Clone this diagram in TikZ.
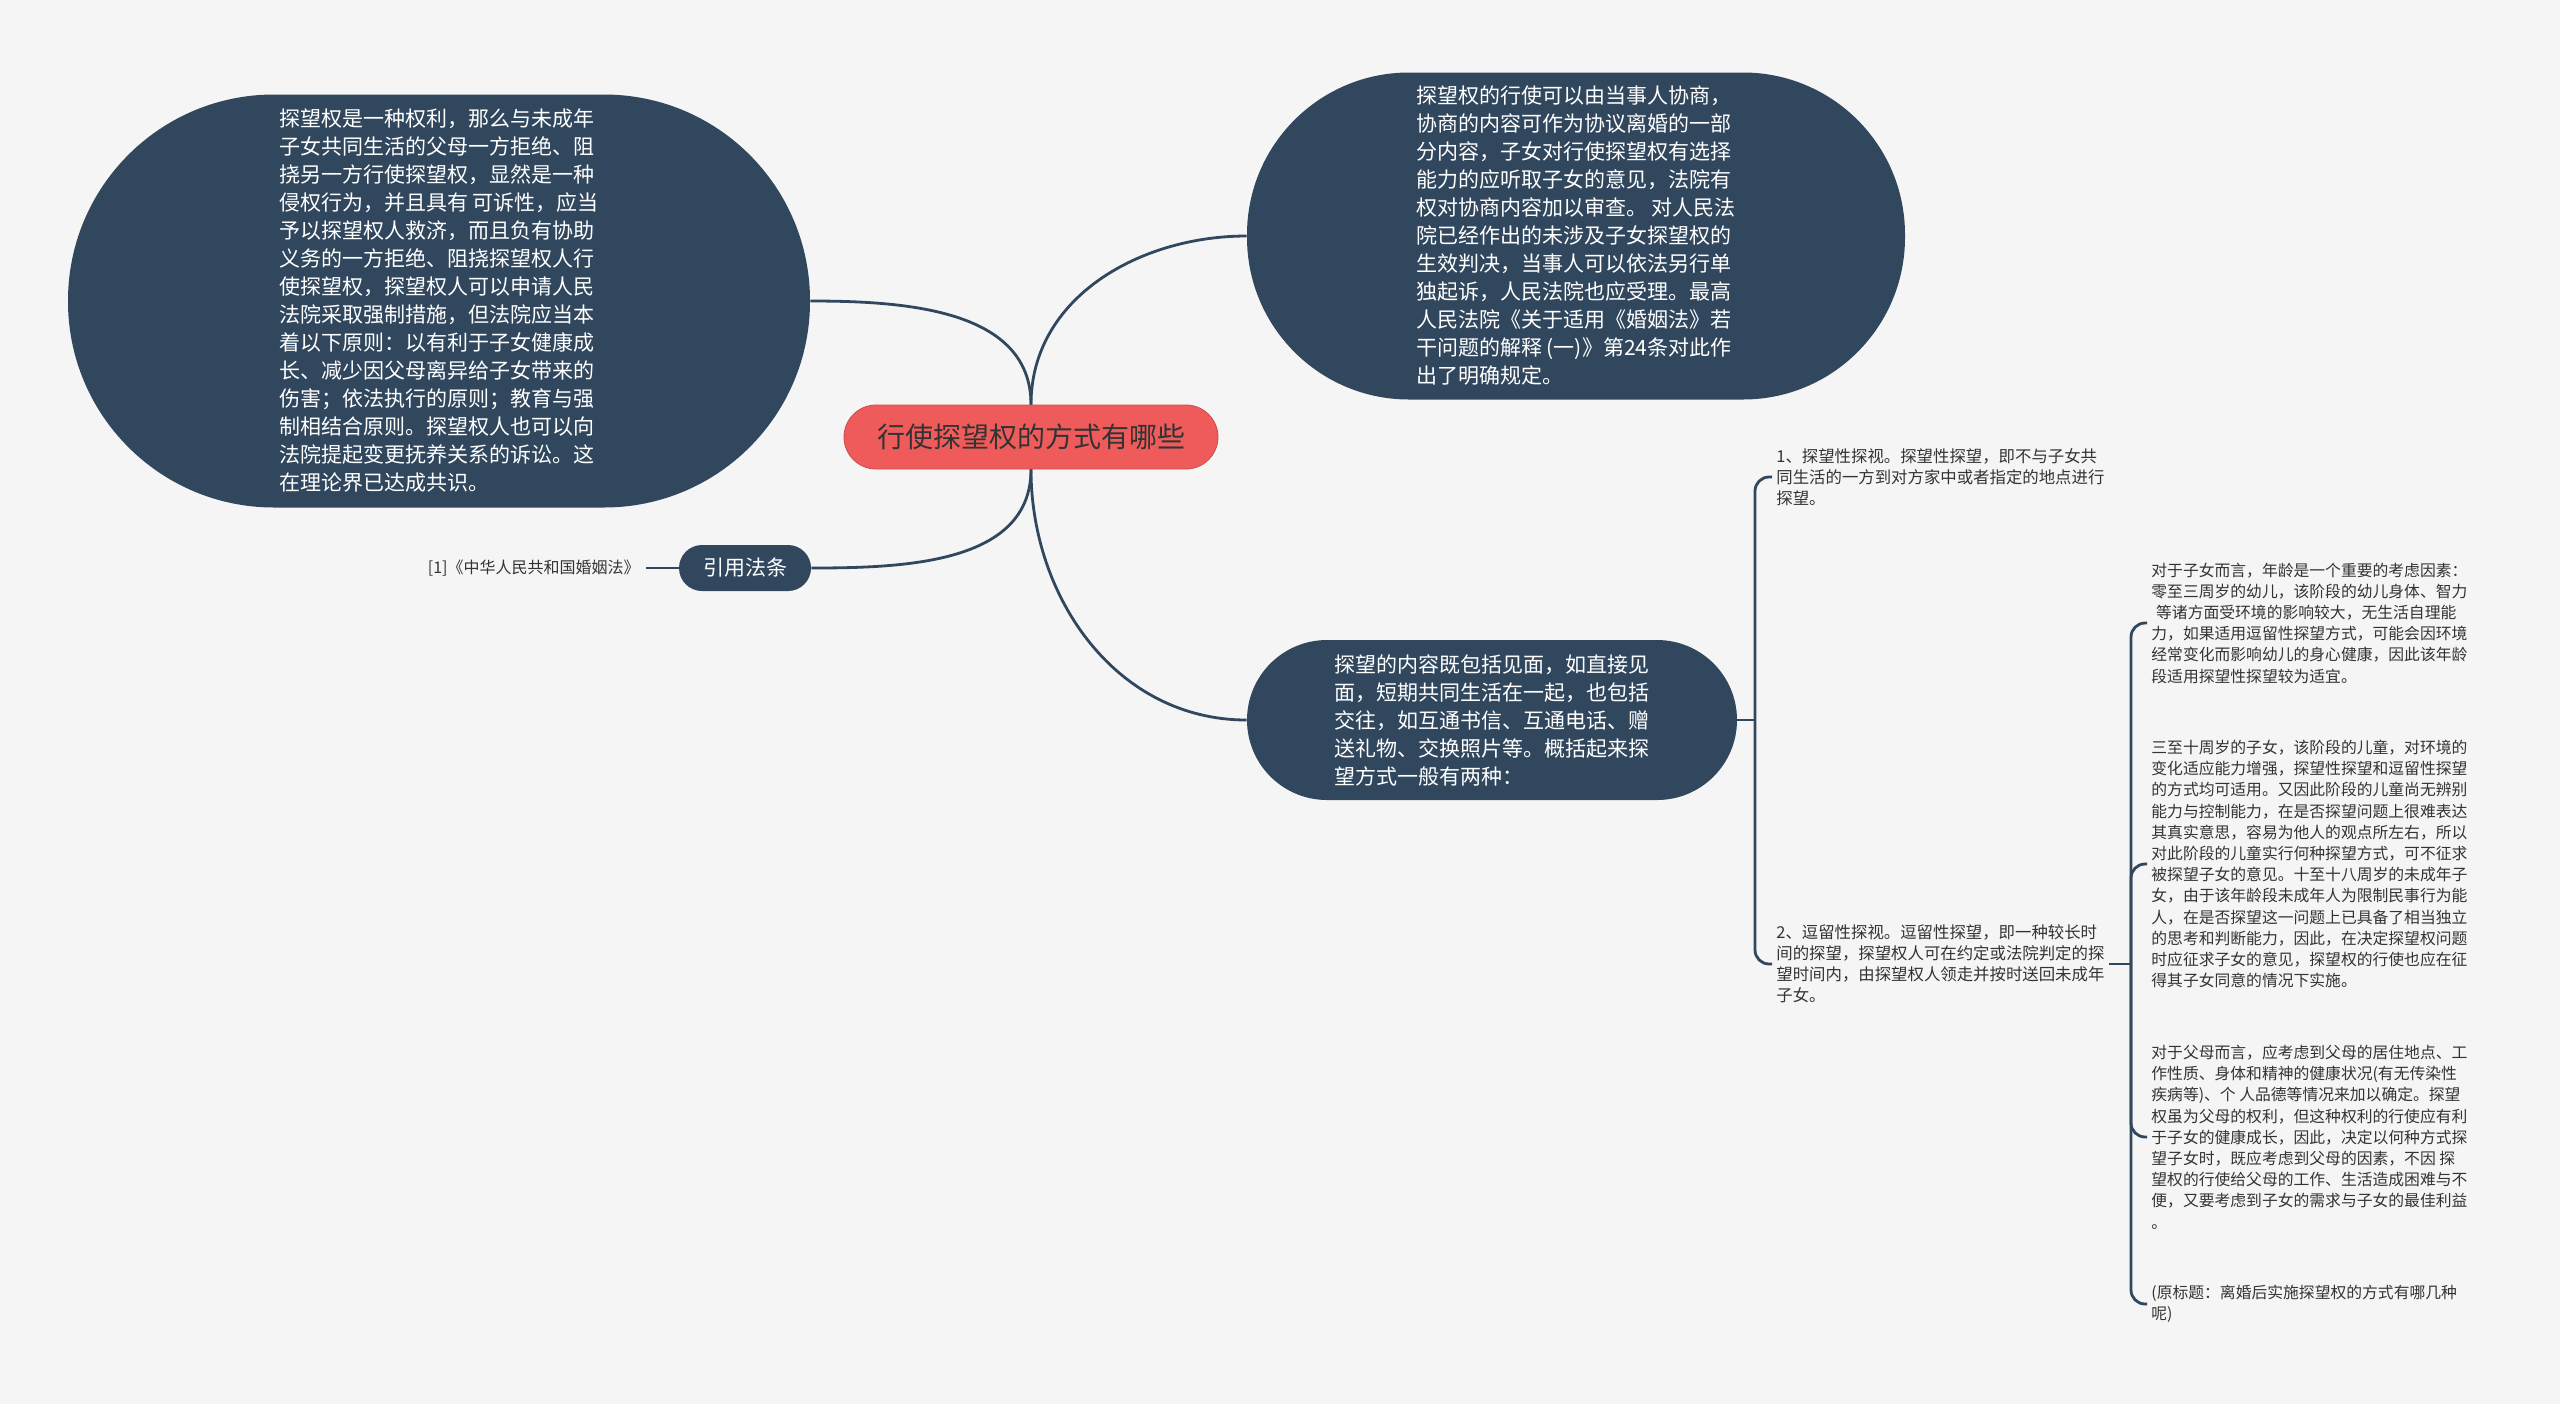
\documentclass[tikz,border=0pt]{standalone}
\usepackage{fontspec}
\setmainfont{Noto Sans CJK SC}
\usetikzlibrary{positioning}
\definecolor{slate}{HTML}{30475E}
\definecolor{rootred}{HTML}{EF5B5B}
\definecolor{paper}{HTML}{F5F5F5}
\definecolor{ink}{HTML}{333333}

\begin{document}
\begin{tikzpicture}[
        x=0.5pt, y=-0.5pt,
        topic/.style={fill=slate, text=white, align=left, font=\fontsize{10.5}{14}\selectfont},
        root/.style={fill=rootred, draw=rootred!85!black, line width=0.4pt, text=ink, minimum width=187pt, minimum height=32pt, rounded corners=16pt, font=\fontsize{14}{17}\selectfont},
        tag/.style={fill=slate, text=white, minimum width=66pt, minimum height=23pt, rounded corners=11.5pt, font=\fontsize{10.5}{12}\selectfont},
        leaf/.style={anchor=west, align=left, text=ink, inner sep=2pt, font=\fontsize{8.2}{10.5}\selectfont},
        subleaf/.style={anchor=west, align=left, text=ink, inner sep=2pt, font=\fontsize{7.9}{10.6}\selectfont},
        link/.style={draw=slate, line width=1.4pt}
    ]
    \fill[paper] (0,0) rectangle (2560,1404);
    \useasboundingbox (0,0) rectangle (2560,1404);

    \node[root] (root) at (1031,437) {行使探望权的方式有哪些};

    \node[topic, minimum width=371pt, minimum height=206.5pt, rounded corners=103pt] (rights) at (439,301) {探望权是一种权利，那么与未成年\\子女共同生活的父母一方拒绝、阻\\挠另一方行使探望权，显然是一种\\侵权行为，并且具有 可诉性，应当\\予以探望权人救济，而且负有协助\\义务的一方拒绝、阻挠探望权人行\\使探望权，探望权人可以申请人民\\法院采取强制措施，但法院应当本\\着以下原则：以有利于子女健康成\\长、减少因父母离异给子女带来的\\伤害；依法执行的原则；教育与强\\制相结合原则。探望权人也可以向\\法院提起变更抚养关系的诉讼。这\\在理论界已达成共识。};
    \node[topic, minimum width=329pt, minimum height=163.5pt, rounded corners=81pt] (consult) at (1576,236) {探望权的行使可以由当事人协商，\\协商的内容可作为协议离婚的一部\\分内容，子女对行使探望权有选择\\能力的应听取子女的意见，法院有\\权对协商内容加以审查。 对人民法\\院已经作出的未涉及子女探望权的\\生效判决，当事人可以依法另行单\\独起诉，人民法院也应受理。最高\\人民法院《关于适用《婚姻法》若\\干问题的解释 (一)》第24条对此作\\出了明确规定。};
    \node[topic, minimum width=245pt, minimum height=80pt, rounded corners=40pt] (content) at (1492,720) {探望的内容既包括见面，如直接见\\面，短期共同生活在一起，也包括\\交往，如互通书信、互通电话、赠\\送礼物、交换照片等。概括起来探\\望方式一般有两种：};
    \node[tag] (cite) at (745,568) {引用法条};
    \node[anchor=east, text=ink, inner sep=3pt, font=\fontsize{8}{10}\selectfont] (law) at (646,568) {[1]《中华人民共和国婚姻法》};

    \draw[link] (root.north) to[out=90, in=0] (rights.east);
    \draw[link] (root.north) to[out=90, in=180] (consult.west);
    \draw[link] (root.south) to[out=-90, in=180] (content.west);
    \draw[link] (root.south) to[out=-90, in=0] (cite.east);
    \draw[link] (cite) -- (law);

    % two ways of visiting
    \node[leaf] (visit1) at (1772,477) {1、探望性探视。探望性探望，即不与子女共\\同生活的一方到对方家中或者指定的地点进行\\探望。};
    \node[leaf] (visit2) at (1772,964) {2、逗留性探视。逗留性探望，即一种较长时\\间的探望，探望权人可在约定或法院判定的探\\望时间内，由探望权人领走并按时送回未成年\\子女。};
    \coordinate (brace1) at (1755,720);
    \draw[link] (content.east) -- (brace1);
    \draw[link, rounded corners=7pt] (brace1) |- (visit1.west);
    \draw[link, rounded corners=7pt] (brace1) |- (visit2.west);

    % details of the second way
    \node[subleaf] (kids) at (2147,623) {对于子女而言，年龄是一个重要的考虑因素：\\零至三周岁的幼儿，该阶段的幼儿身体、智力\\\hspace{0.3em}等诸方面受环境的影响较大，无生活自理能\\力，如果适用逗留性探望方式，可能会因环境\\经常变化而影响幼儿的身心健康，因此该年龄\\段适用探望性探望较为适宜。};
    \node[subleaf] (older) at (2147,864) {三至十周岁的子女，该阶段的儿童，对环境的\\变化适应能力增强，探望性探望和逗留性探望\\的方式均可适用。又因此阶段的儿童尚无辨别\\能力与控制能力，在是否探望问题上很难表达\\其真实意思，容易为他人的观点所左右，所以\\对此阶段的儿童实行何种探望方式，可不征求\\被探望子女的意见。十至十八周岁的未成年子\\女，由于该年龄段未成年人为限制民事行为能\\人，在是否探望这一问题上已具备了相当独立\\的思考和判断能力，因此，在决定探望权问题\\时应征求子女的意见，探望权的行使也应在征\\得其子女同意的情况下实施。};
    \node[subleaf] (parents) at (2147,1137) {对于父母而言，应考虑到父母的居住地点、工\\作性质、身体和精神的健康状况(有无传染性\\疾病等)、个 人品德等情况来加以确定。探望\\权虽为父母的权利，但这种权利的行使应有利\\于子女的健康成长，因此，决定以何种方式探\\望子女时，既应考虑到父母的因素，不因 探\\望权的行使给父母的工作、生活造成困难与不\\便，又要考虑到子女的需求与子女的最佳利益\\。};
    \node[subleaf] (source) at (2147,1304) {(原标题：离婚后实施探望权的方式有哪几种\\呢)};
    \coordinate (brace2) at (2131,964);
    \draw[link] (visit2.east) -- (brace2);
    \draw[link, rounded corners=7pt] (brace2) |- (kids.west);
    \draw[link, rounded corners=7pt] (brace2) |- (older.west);
    \draw[link, rounded corners=7pt] (brace2) |- (parents.west);
    \draw[link, rounded corners=7pt] (brace2) |- (source.west);
\end{tikzpicture}
\end{document}
